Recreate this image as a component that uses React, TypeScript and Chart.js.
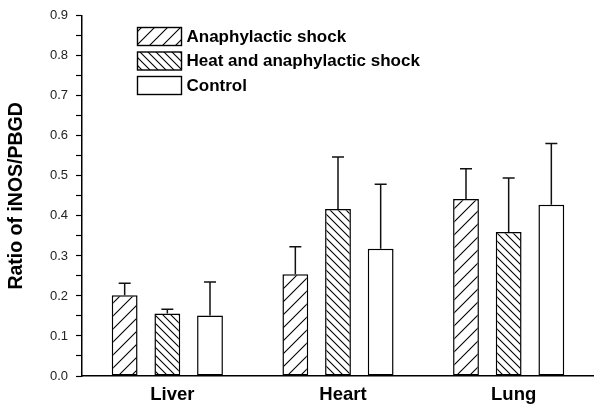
import React, { useEffect, useRef } from 'react';
import { Chart, registerables } from 'chart.js';

Chart.register(...registerables);

const categories = ['Liver', 'Heart', 'Lung'];
const seriesLabels = ['Anaphylactic shock', 'Heat and anaphylactic shock', 'Control'];
const anaphylactic = [0.202, 0.254, 0.442];
const heatAnaphylactic = [0.156, 0.417, 0.36];
const control = [0.151, 0.318, 0.428];
const anaphylacticErr = [0.03, 0.069, 0.076];
const heatAnaphylacticErr = [0.011, 0.13, 0.135];
const controlErr = [0.084, 0.161, 0.153];
const yMin = 0;
const yMax = 0.9;
const yStep = 0.05;
const yTitle = 'Ratio of iNOS/PBGD';

const errors = [anaphylacticErr, heatAnaphylacticErr, controlErr];
const FONT = '"Liberation Sans", Arial, Helvetica, sans-serif';

function hatch(size: number, dir: '/' | '\\'): CanvasPattern | string {
  const c = document.createElement('canvas');
  c.width = size;
  c.height = size;
  const g = c.getContext('2d');
  if (!g) return '#fff';
  g.fillStyle = '#fff';
  g.fillRect(0, 0, size, size);
  g.strokeStyle = '#000';
  g.lineWidth = 1.1;
  g.beginPath();
  if (dir === '/') {
    g.moveTo(-1, size + 1);
    g.lineTo(size + 1, -1);
    g.moveTo(-1, 1);
    g.lineTo(1, -1);
    g.moveTo(size - 1, size + 1);
    g.lineTo(size + 1, size - 1);
  } else {
    g.moveTo(-1, -1);
    g.lineTo(size + 1, size + 1);
    g.moveTo(size - 1, -1);
    g.lineTo(size + 1, 1);
    g.moveTo(-1, size - 1);
    g.lineTo(1, size + 1);
  }
  g.stroke();
  return g.createPattern(c, 'repeat') || '#fff';
}

const errorBarsPlugin = {
  id: 'errorBars',
  afterDatasetsDraw(chart: any) {
    const ctx = chart.ctx;
    const yScale = chart.scales.y;
    chart.data.datasets.forEach((ds: any, i: number) => {
      const meta = chart.getDatasetMeta(i);
      meta.data.forEach((bar: any, j: number) => {
        const v = ds.data[j];
        const e = errors[i][j];
        const yTop = yScale.getPixelForValue(v + e);
        ctx.save();
        ctx.strokeStyle = '#111';
        ctx.lineWidth = 1.5;
        ctx.beginPath();
        ctx.moveTo(bar.x, bar.y);
        ctx.lineTo(bar.x, yTop);
        ctx.moveTo(bar.x - 6, yTop);
        ctx.lineTo(bar.x + 6, yTop);
        ctx.stroke();
        ctx.restore();
      });
    });
  },
};

const insideLegendPlugin = {
  id: 'insideLegend',
  afterDraw(chart: any) {
    const ctx = chart.ctx;
    const x0 = 137.5;
    let y0 = 27.5;
    const w = 44;
    const h = 18;
    const step = 24.5;
    chart.data.datasets.forEach((ds: any) => {
      ctx.save();
      ctx.fillStyle = ds.backgroundColor;
      ctx.fillRect(x0, y0, w, h);
      ctx.strokeStyle = '#000';
      ctx.lineWidth = 1.4;
      ctx.strokeRect(x0, y0, w, h);
      ctx.fillStyle = '#000';
      ctx.font = 'bold 17px ' + FONT;
      ctx.textBaseline = 'middle';
      ctx.textAlign = 'left';
      ctx.fillText(ds.label, x0 + w + 5, y0 + h / 2 + 0.5);
      ctx.restore();
      y0 += step;
    });
  },
};

export default function App() {
  const ref = useRef<HTMLCanvasElement>(null);

  useEffect(() => {
    if (!ref.current) return;
    const fills = [hatch(13, '/'), hatch(8, '\\'), '#fff'];
    const series = [anaphylactic, heatAnaphylactic, control];
    const chart = new Chart(ref.current, {
      type: 'bar',
      data: {
        labels: categories,
        datasets: series.map((d, i) => ({
          label: seriesLabels[i],
          data: d,
          backgroundColor: fills[i] as any,
          borderColor: '#000',
          borderWidth: 1.5,
          borderSkipped: false,
          categoryPercentage: 0.75,
          barPercentage: 0.605,
        })),
      },
      options: {
        responsive: false,
        animation: false,
        layout: { padding: { top: 12, left: 0, right: -4, bottom: 0 } },
        plugins: {
          legend: { display: false },
          tooltip: { enabled: false },
        },
        scales: {
          x: {
            type: 'category',
            offset: true,
            grid: { display: false, drawTicks: false },
            border: { display: true, color: '#000', width: 1.5 },
            ticks: {
              color: '#000',
              padding: 8,
              labelOffset: 5,
              font: { family: FONT, size: 18.5, weight: 'bold' },
            },
            afterFit: (s: any) => {
              s.height = 32;
            },
          },
          y: {
            type: 'linear',
            min: yMin,
            max: yMax,
            grid: {
              display: true,
              drawOnChartArea: false,
              drawTicks: true,
              tickLength: 6,
              tickColor: '#000',
              tickWidth: 1.2,
            },
            border: { display: true, color: '#000', width: 1.5 },
            ticks: {
              stepSize: yStep,
              autoSkip: false,
              color: '#222',
              padding: 8,
              font: { family: FONT, size: 13 },
              callback: (v: any) => (Math.round(Number(v) * 20) % 2 === 0 ? Number(v).toFixed(1) : ''),
            },
            title: {
              display: true,
              text: yTitle,
              color: '#000',
              padding: { top: 5, bottom: 0 },
              font: { family: FONT, size: 19.5, weight: 'bold' },
            },
            afterFit: (s: any) => {
              s.width = 82;
            },
          },
        },
      },
      plugins: [errorBarsPlugin, insideLegendPlugin],
    });
    return () => chart.destroy();
  }, []);

  return (
    <div style={{ position: 'absolute', left: 0, top: 0, width: 594, height: 408, background: '#fff' }}>
      <canvas ref={ref} width={594} height={408} />
    </div>
  );
}
